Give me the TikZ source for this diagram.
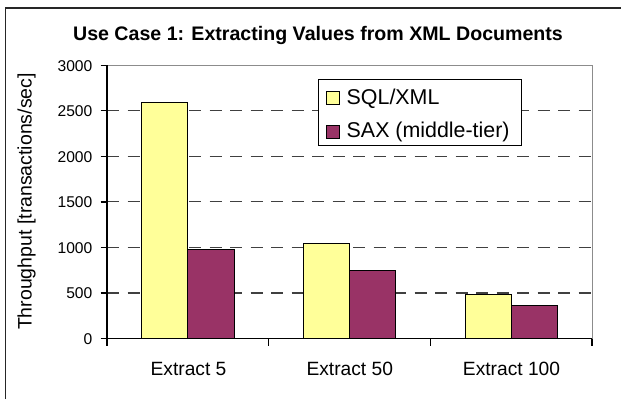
\documentclass[tikz,border=0pt]{standalone}
\usepackage{fontspec}
\setmainfont{Liberation Sans}
\definecolor{sqlc}{HTML}{FFFF99}
\definecolor{saxc}{HTML}{993366}
\begin{document}
\begin{tikzpicture}[x=1pt,y=-1pt,
  gridline/.style={line width=1.1pt, black!75, dash pattern=on 12pt off 8.5pt},
  plotframe/.style={line width=1pt, black!45},
  axisline/.style={line width=1.2pt, black},
  sqlbar/.style={fill=sqlc, draw=black, line width=0.9pt},
  saxbar/.style={fill=saxc, draw=black, line width=0.9pt},
  ticklbl/.style={inner sep=0pt, font=\fontsize{15.6pt}{16pt}\selectfont},
  catlbl/.style={inner sep=0pt, font=\fontsize{19.2pt}{20pt}\selectfont},
  leglbl/.style={inner sep=0pt, anchor=west, font=\fontsize{21.4pt}{22pt}\selectfont},
  swatch/.style={draw=black, line width=0.9pt, minimum size=13pt, inner sep=0pt}]
\useasboundingbox (0,0) rectangle (621,399);
\fill[white] (0,0) rectangle (621,399);
% outer chart frame (cut off at right and bottom)
\draw[line width=1.5pt, black!85] (5.5,399) -- (5.5,8) -- (621,8);
% title
\node[inner sep=0pt, anchor=base, font=\bfseries\fontsize{19.6pt}{20pt}\selectfont] (title) at (318,40) {Use Case 1: Extracting Values from XML Documents};
% gridlines
\foreach \v in {500,1000,1500,2000,2500}
  \draw[gridline] (107,{338.5-0.09107*\v}) -- (592,{338.5-0.09107*\v});
% plot frame top/right
\draw[plotframe] (107,65.3) -- (592,65.3) -- (592,338.5);
% bars
\foreach \i/\a/\b in {0/2590/980, 1/1040/745, 2/480/365} {
  \pgfmathsetmacro\L{107+161.67*\i}
  \draw[sqlbar] (\L+34.65,338.5) rectangle (\L+80.85,{338.5-0.09107*\a});
  \draw[saxbar] (\L+80.85,338.5) rectangle (\L+127.05,{338.5-0.09107*\b});
}
% axes
\draw[axisline] (107,65.3) -- (107,338.5) -- (592,338.5);
\foreach \v in {0,500,1000,1500,2000,2500,3000} {
  \draw[axisline] (100.7,{338.5-0.09107*\v}) -- (107,{338.5-0.09107*\v});
  \node[ticklbl, anchor=base east] (y\v) at (92.5,{338.5-0.09107*\v+5.8}) {\v};
}
\foreach \x in {107,268.67,430.33,592}
  \draw[axisline] (\x,338.5) -- (\x,345.5);
% category labels
\node[catlbl, anchor=base] (c1) at (188.5,375) {Extract 5};
\node[catlbl, anchor=base] (c2) at (349.8,375) {Extract 50};
\node[catlbl, anchor=base] (c3) at (511.5,375) {Extract 100};
% y axis title
\node[inner sep=0pt, rotate=90, anchor=base, font=\fontsize{19.5pt}{20pt}\selectfont] (ytitle) at (31.7,201.5) {Throughput [transactions/sec]};
% legend
\draw[fill=white, draw=black, line width=0.9pt] (318.3,79) rectangle (521.7,145);
\node[swatch, fill=sqlc] (s1) at (333.3,98.3) {};
\node[swatch, fill=saxc] (s2) at (333.3,131.7) {};
\node[leglbl] (l1) at (346.5,98.8) {SQL/XML};
\node[leglbl] (l2) at (346.5,132) {SAX (middle-tier)};
\end{tikzpicture}
\end{document}
